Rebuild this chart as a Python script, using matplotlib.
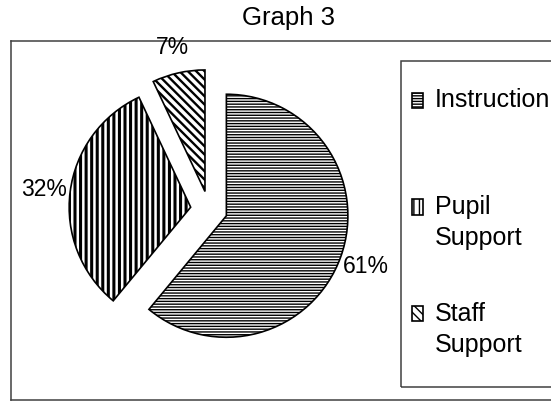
import matplotlib.pyplot as plt
from matplotlib.patches import Rectangle

plt.rcParams["font.family"] = ["Liberation Sans", "DejaVu Sans"]
plt.rcParams["hatch.linewidth"] = 1.0

labels = ["Instruction", "Pupil\nSupport", "Staff\nSupport"]
shares = [61, 32, 7]
hatches = ["------", "|||", "\\\\\\\\"]

W, H = 551, 402
fig = plt.figure(figsize=(W / 100, H / 100), dpi=100)

# outer chart frame (pixels): left 10.5, top 41.7, bottom 400.7, right off-image
fl, ft, fb = 10.5, 41.7, 400.7
ax = fig.add_axes([fl / W, (H - fb) / H, 1.2, (fb - ft) / H])

wedges, texts, autotexts = ax.pie(
    shares, explode=[0.152] * 3, startangle=90, counterclock=False,
    autopct="%1.0f%%", pctdistance=1.22, hatch=hatches,
    colors=["white"] * 3, frame=True,
    wedgeprops=dict(edgecolor="black", linewidth=1.2),
    textprops=dict(fontsize=16.5),
)
for w, lw in zip(wedges, [1.0, 2.2, 1.7]):
    w.set_hatch_linewidth(lw)

# place pie centre at pixel (209, 210.5) with radius 121.5 px
cx, cy, s = 209, 210.5, 121.5
ax.set_aspect("auto")
ax.set_xlim((fl - cx) / s, (fl + 1.2 * W - cx) / s)
ax.set_ylim((cy - fb) / s, (cy - ft) / s)
ax.set_xticks([])
ax.set_yticks([])
for sp in ax.spines.values():
    sp.set_color("#404040")
    sp.set_linewidth(1.1)

fig.text(288 / W, 1 - 18 / H, "Graph 3", ha="center", va="center", fontsize=18.5)

# legend frame
fig.add_artist(Rectangle((400.5 / W, (H - 388) / H), 0.5, (388 - 62) / H,
                         transform=fig.transFigure, fill=False,
                         edgecolor="#404040", linewidth=1.1))

leg_labels = ["Instruction\n", "Pupil\nSupport", "Staff\nSupport"]
leg = fig.legend(wedges, leg_labels, loc="upper left",
                 bbox_to_anchor=(412 / W, 1 - 88 / H), bbox_transform=fig.transFigure,
                 frameon=False, borderpad=0, borderaxespad=0, fontsize=18,
                 handlelength=0.42, handleheight=0.55, handletextpad=0.5,
                 labelspacing=2.05)
for t in leg.get_texts():
    t.set_linespacing(1.4)
for h in leg.legend_handles:
    h.set_y(h.get_y() + 11)

fig.savefig("out.png", dpi=100)
